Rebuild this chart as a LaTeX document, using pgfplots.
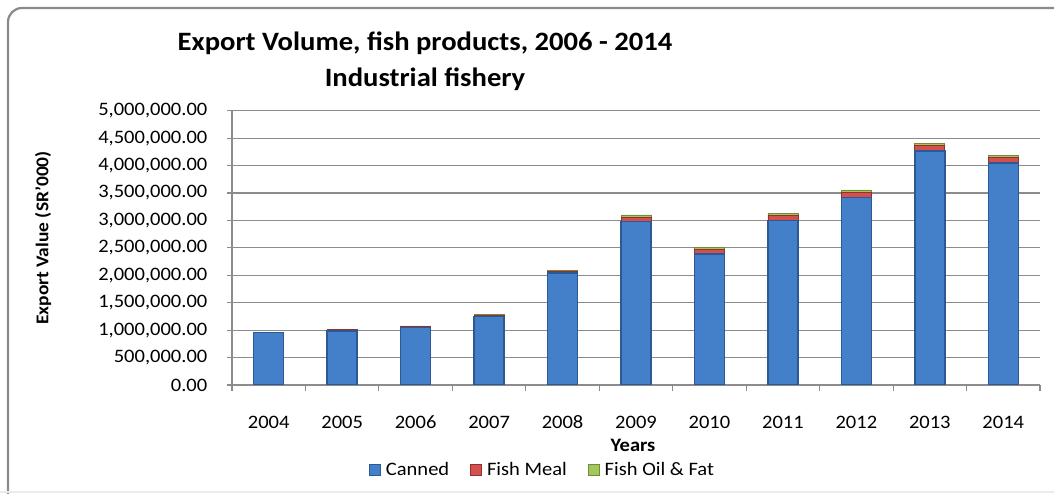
\documentclass[border=0pt]{standalone}
\usepackage{fontspec}
\setmainfont{Carlito}[FakeStretch=1.08]
\usepackage{pgfplots}
\pgfplotsset{compat=1.18}
\usepackage{pgfplotstable}

\definecolor{frameGray}{HTML}{8A8A8A}
\definecolor{gridGray}{HTML}{8C8C8C}
\definecolor{blueEdge}{HTML}{2C5893}
\definecolor{blueMid}{HTML}{4480CA}
\definecolor{redEdge}{HTML}{93302D}
\definecolor{redMid}{HTML}{D4504C}
\definecolor{greenEdge}{HTML}{718E37}
\definecolor{greenMid}{HTML}{A3C75C}

% year index, canned, fish meal, fish oil & fat
\pgfplotstableread{
x canned meal oil
0 955000 8000 2000
1 985000 25000 3000
2 1045000 28000 3000
3 1250000 25000 15000
4 2040000 38000 5000
5 2980000 72000 48000
6 2390000 82000 38000
7 2995000 95000 40000
8 3415000 100000 40000
9 4265000 100000 40000
10 4050000 100000 40000
}\exports

\begin{document}
\begin{tikzpicture}[x=1pt,y=1pt]
\useasboundingbox (0,0) rectangle (1054,494);
\begin{scope}
  \clip (0,0) rectangle (1054,494);
  \draw[color=frameGray, line width=2.2pt, rounded corners=14pt] (8,-20) -- (8,486) -- (1080,486);
  \draw[color=black!8, line width=2pt] (0,1.5) -- (1054,1.5);
\end{scope}

\node[font=\fontsize{26.5}{30}\selectfont\bfseries, anchor=base] at (425,443) {Export Volume, fish products, 2006 - 2014};
\node[font=\fontsize{26.5}{30}\selectfont\bfseries, anchor=base] at (425,407) {Industrial fishery};
\node[font=\fontsize{18}{21}\selectfont\bfseries, rotate=90] at (43,256) {Export Value (SR'000)};
\node[font=\fontsize{19}{22}\selectfont\bfseries] at (633,49) {Years};

\begin{axis}[
  at={(232pt,109pt)}, anchor=south west,
  scale only axis, width=808pt, height=274.3pt,
  ybar stacked, bar width=30pt,
  xmin=-0.5, xmax=10.5,
  ymin=0, ymax=5000000,
  xtick={0,...,10},
  xticklabels={2004,2005,2006,2007,2008,2009,2010,2011,2012,2013,2014},
  minor xtick={-0.5,0.5,...,10.5},
  ytick={0,500000,1000000,1500000,2000000,2500000,3000000,3500000,4000000,4500000,5000000},
  scaled y ticks=false,
  yticklabel style={/pgf/number format/fixed, /pgf/number format/fixed zerofill,
    /pgf/number format/precision=2, /pgf/number format/1000 sep={,},
    /pgf/number format/assume math mode=true,
    anchor=east, inner sep=0pt, xshift=-19pt},
  axis x line*=bottom, axis y line*=left,
  axis line style={gridGray, line width=1.1pt},
  tick align=outside,
  major tick length=5.5pt, minor tick length=6pt,
  major x tick style={draw=none},
  tick style={gridGray, line width=1.1pt},
  ymajorgrids, grid style={gridGray, line width=1.1pt},
  tick label style={font=\fontsize{19}{22}\selectfont},
  xticklabel style={anchor=center, yshift=-32pt},
  legend columns=-1,
  legend style={at={(0.384,-0.31)}, anchor=center, draw=none, fill=none,
    font=\fontsize{19}{22}\selectfont,
    /tikz/every odd column/.append style={column sep=3pt},
    /tikz/every even column/.append style={column sep=19pt}},
  legend image code/.code={\fill[#1] (0pt,-5.5pt) rectangle (11pt,5.5pt);},
]
\addplot[draw=blueEdge, line width=1.4pt, fill=blueMid] table[x=x, y=canned] {\exports};
\addlegendentry{Canned}
\addplot[draw=redEdge, line width=0.8pt, fill=redMid] table[x=x, y=meal] {\exports};
\addlegendentry{Fish Meal}
\addplot[draw=greenEdge, line width=0.8pt, fill=greenMid] table[x=x, y=oil] {\exports};
\addlegendentry{Fish Oil \& Fat}
\end{axis}
\end{tikzpicture}
\end{document}
